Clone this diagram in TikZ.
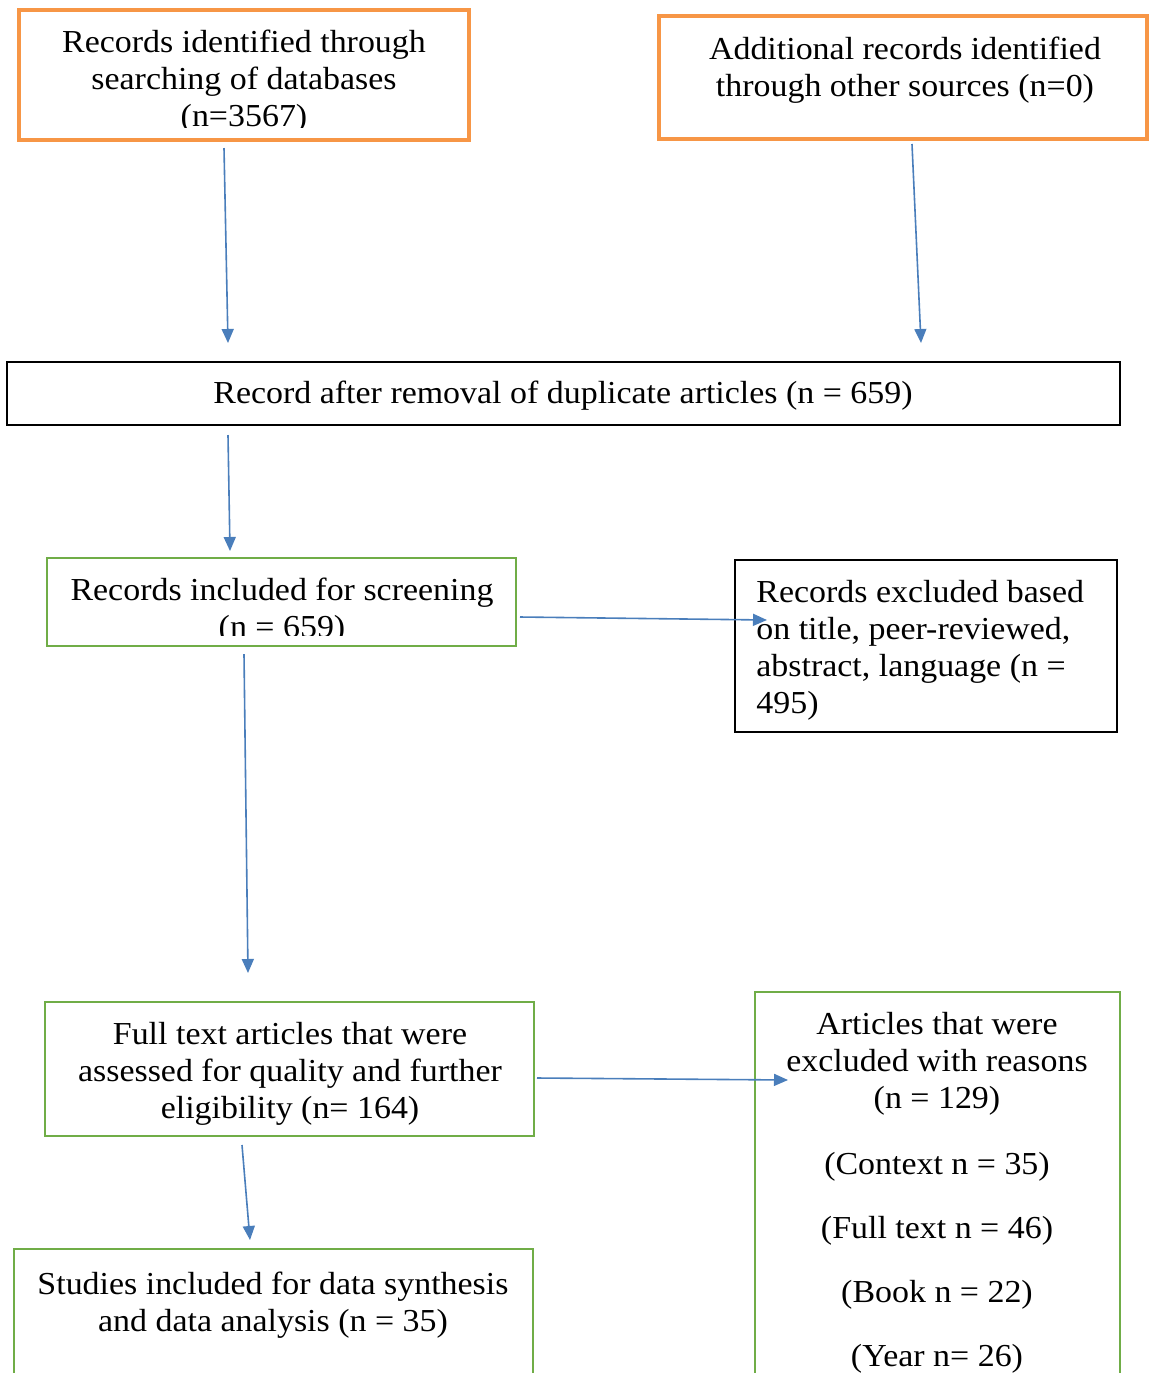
\documentclass[tikz,border=0pt]{standalone}
\usepackage{fontspec}
\setmainfont[FakeStretch=1.06]{Liberation Serif}
\usetikzlibrary{arrows.meta}
\definecolor{orng}{HTML}{F79646}
\definecolor{grn}{HTML}{70AD47}
\definecolor{arr}{HTML}{4A7EBB}
\begin{document}
\begin{tikzpicture}[x=0.5pt,y=-0.5pt,
 sz/.style 2 args={minimum width=#1*0.5pt, minimum height=#2*0.5pt},
 txt/.style={font=\fontsize{16}{18.5}\selectfont, inner sep=0pt, align=center},
 obox/.style={draw=orng, line width=2pt, inner sep=0pt},
 gbox/.style={draw=grn, line width=1.2pt, inner sep=0pt},
 kbox/.style={draw=black, line width=0.6pt, inner sep=0pt},
 flow/.style={draw=arr, line width=0.8pt, -{Triangle[length=7pt,width=6pt]}}]
\useasboundingbox (0,0) rectangle (1149,1373);
\clip (0,0) rectangle (1149,1373);
% boxes
\node[obox, sz={450}{130}] (b1) at (244,75) {};
\node[obox, sz={488}{123}] (b2) at (903,77.5) {};
\node[kbox, sz={1113}{63}] (b3) at (563.5,393.5) {};
\node[gbox, sz={469}{88}] (b4) at (281.5,602) {};
\node[kbox, sz={382}{172}] (b5) at (926,646) {};
\node[gbox, sz={489}{134}] (b6) at (289.5,1069) {};
\node[gbox, sz={365}{408}] (b7) at (937.5,1196) {};
\node[gbox, sz={519}{151}] (b8) at (273.5,1324.5) {};
% texts
\begin{scope}
\clip (19,10) rectangle (469,127);
\node[txt] (t1) at (244,82) {Records identified through\\searching of databases\\(n=3567)};
\end{scope}
\node[txt] (t2) at (905,70.5) {Additional records identified\\through other sources (n=0)};
\node[txt] (t3) at (563,396) {Record after removal of duplicate articles (n = 659)};
\begin{scope}
\clip (47,558) rectangle (516,635);
\node[txt] (t4) at (282,611.5) {Records included for screening\\(n = 659)};
\end{scope}
\node[txt, align=left, anchor=west] (t5) at (756,650.5) {Records excluded based\\on title, peer-reviewed,\\abstract, language (n =\\495)};
\node[txt] (t6) at (290,1073.5) {Full text articles that were\\assessed for quality and further\\eligibility (n= 164)};
\node[txt] (t7) at (937,1064) {Articles that were\\excluded with reasons\\(n = 129)};
\node[txt] (t7a) at (937,1167) {(Context n = 35)};
\node[txt] (t7b) at (937,1231) {(Full text n = 46)};
\node[txt] (t7c) at (937,1295) {(Book n = 22)};
\node[txt] (t7d) at (937,1359) {(Year n= 26)};
\node[txt] (t8) at (273,1305) {Studies included for data synthesis\\and data analysis (n = 35)};
% arrow endpoints
\coordinate (a1s) at (224,148); \coordinate (a1e) at (228,343);
\coordinate (a2s) at (912,144); \coordinate (a2e) at (921,343);
\coordinate (a3s) at (228,435); \coordinate (a3e) at (230,551);
\coordinate (a4s) at (520,617); \coordinate (a4e) at (767,620);
\coordinate (a5s) at (244,654); \coordinate (a5e) at (248,973);
\coordinate (a6s) at (537,1078); \coordinate (a6e) at (788,1080);
\coordinate (a7s) at (242,1145); \coordinate (a7e) at (250,1240);
\draw[flow] (a1s) -- (a1e);
\draw[flow] (a2s) -- (a2e);
\draw[flow] (a3s) -- (a3e);
\draw[flow] (a4s) -- (a4e);
\draw[flow] (a5s) -- (a5e);
\draw[flow] (a6s) -- (a6e);
\draw[flow] (a7s) -- (a7e);
\end{tikzpicture}
\end{document}
